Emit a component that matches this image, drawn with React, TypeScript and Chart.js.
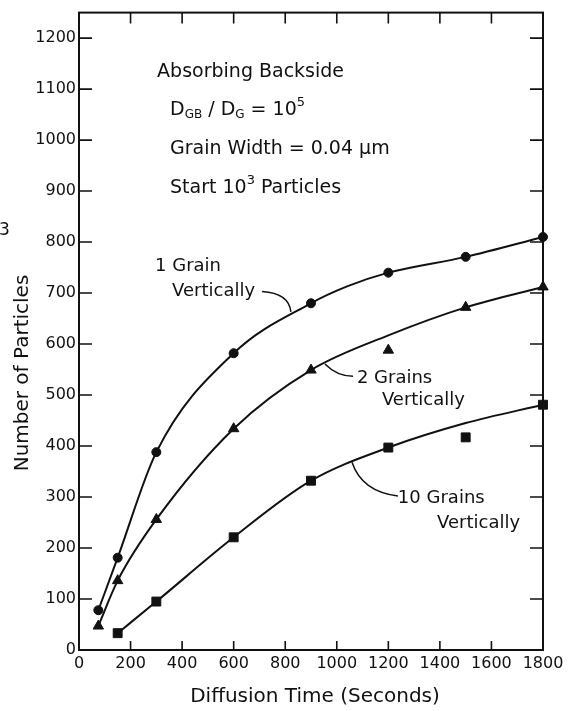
import React, { useEffect, useRef } from 'react';
import { Chart, registerables } from 'chart.js';

Chart.register(...registerables);

// ---- data ----
// measured points
const timesMain = [75, 150, 300, 600, 900, 1200, 1500, 1800];
const timesTen = [150, 300, 600, 900, 1200, 1500, 1800];
const oneGrainPoints = [78, 181, 388, 582, 680, 740, 771, 810];
const twoGrainPoints = [47, 136, 256, 434, 549, 588, 672, 712];
const tenGrainPoints = [33, 95, 221, 332, 397, 417, 481];

// drawn smooth curves (positions)
const oneGrainCurveX = [75, 150, 300, 600, 900, 1040, 1200, 1500, 1800];
const oneGrainCurveY = [78, 181, 388, 582, 680, 713, 740, 771, 810];
const twoGrainCurveX = [75, 150, 300, 600, 900, 1200, 1500, 1800];
const twoGrainCurveY = [47, 136, 256, 434, 549, 617, 672, 712];
const tenGrainCurveX = [150, 300, 600, 900, 1200, 1500, 1800];
const tenGrainCurveY = [33, 95, 221, 332, 397, 445, 481];

const xTickValues = [0, 200, 400, 600, 800, 1000, 1200, 1400, 1600, 1800];
const yTickValues = [0, 100, 200, 300, 400, 500, 600, 700, 800, 900, 1000, 1100, 1200];

const FONT = "'DejaVu Sans', sans-serif";
const INK = '#111';

type Part = { t: string; s: number; dy?: number };

// annotation labels in data units
const curveLabels = [
  { text: '1 Grain', x: 295, y: 752 },
  { text: 'Vertically', x: 361, y: 703 },
  { text: '2 Grains', x: 1078, y: 533 },
  { text: 'Vertically', x: 1175, y: 490 },
  { text: '10 Grains', x: 1237, y: 297 },
  { text: 'Vertically', x: 1389, y: 248 },
];

// leader curves [start, control, end] in data units
const leaders = [
  [[710, 703], [814, 700], [822, 663]],
  [[1063, 537], [1001, 537], [954, 561]],
  [[1237, 302], [1098, 310], [1059, 368]],
];

const infoLines: { x: number; y: number; parts: Part[] }[] = [
  { x: 303, y: 1124, parts: [{ t: 'Absorbing Backside', s: 19 }] },
  {
    x: 353,
    y: 1050,
    parts: [
      { t: 'D', s: 19 },
      { t: 'GB', s: 12, dy: 3 },
      { t: ' / D', s: 19 },
      { t: 'G', s: 12, dy: 3 },
      { t: ' = 10', s: 19 },
      { t: '5', s: 13, dy: -9 },
    ],
  },
  { x: 353, y: 973, parts: [{ t: 'Grain Width = 0.04 μm', s: 19 }] },
  {
    x: 353,
    y: 897,
    parts: [
      { t: 'Start 10', s: 19 },
      { t: '3', s: 13, dy: -9 },
      { t: ' Particles', s: 19 },
    ],
  },
];

const pairs = (xs: number[], ys: number[]) => xs.map((x, i) => ({ x, y: ys[i] }));

const decor = {
  id: 'decor',
  afterDraw(chart: any) {
    const { ctx, chartArea: a } = chart;
    const xs = chart.scales.x;
    const ys = chart.scales.y;
    const X = (v: number) => xs.getPixelForValue(v);
    const Y = (v: number) => ys.getPixelForValue(v);
    ctx.save();
    ctx.strokeStyle = INK;
    ctx.fillStyle = INK;
    ctx.lineWidth = 2;
    ctx.strokeRect(a.left, a.top, a.right - a.left, a.bottom - a.top);

    // inward tick marks on all four sides
    ctx.lineWidth = 1.6;
    ctx.beginPath();
    xTickValues.forEach((v) => {
      if (v <= xs.min || v >= xs.max) return;
      const px = X(v);
      ctx.moveTo(px, a.bottom);
      ctx.lineTo(px, a.bottom - 9);
      ctx.moveTo(px, a.top);
      ctx.lineTo(px, a.top + 11);
    });
    yTickValues.forEach((v) => {
      if (v <= ys.min) return;
      const py = Y(v);
      ctx.moveTo(a.left, py);
      ctx.lineTo(a.left + 13, py);
      ctx.moveTo(a.right, py);
      ctx.lineTo(a.right - 13, py);
    });
    ctx.stroke();

    // leader lines
    ctx.lineWidth = 1.5;
    leaders.forEach(([s, c, e]) => {
      ctx.beginPath();
      ctx.moveTo(X(s[0]), Y(s[1]));
      ctx.quadraticCurveTo(X(c[0]), Y(c[1]), X(e[0]), Y(e[1]));
      ctx.stroke();
    });

    // curve labels
    ctx.textBaseline = 'middle';
    ctx.textAlign = 'left';
    ctx.font = `18px ${FONT}`;
    curveLabels.forEach((l) => ctx.fillText(l.text, X(l.x), Y(l.y)));

    // info block
    ctx.textBaseline = 'alphabetic';
    infoLines.forEach((line) => {
      let cx = X(line.x);
      const by = Y(line.y);
      line.parts.forEach((p) => {
        ctx.font = `${p.s}px ${FONT}`;
        ctx.fillText(p.t, cx, by + (p.dy || 0));
        cx += ctx.measureText(p.t).width;
      });
    });

    // axis titles
    ctx.font = `20px ${FONT}`;
    ctx.textAlign = 'center';
    ctx.textBaseline = 'middle';
    ctx.fillText('Diffusion Time (Seconds)', 315, 697);
    ctx.save();
    ctx.translate(23, 373);
    ctx.rotate(-Math.PI / 2);
    ctx.fillText('Number of Particles', 0, 0);
    ctx.restore();

    // stray glyph at the left edge
    ctx.textAlign = 'left';
    ctx.font = `17px ${FONT}`;
    ctx.fillText('3', -1, 231);
    ctx.restore();
  },
};

export default function App() {
  const ref = useRef<HTMLCanvasElement | null>(null);
  useEffect(() => {
    if (!ref.current) return;
    Chart.defaults.font.family = FONT;
    const lineDs = (xsArr: number[], data: number[]) => ({
      type: 'line' as const,
      data: pairs(xsArr, data),
      borderColor: INK,
      borderWidth: 2,
      pointRadius: 0,
      cubicInterpolationMode: 'monotone' as const,
      fill: false,
      clip: false as any,
    });
    const ptDs = (data: number[], xsArr: number[], style: string, r: number) => ({
      type: 'scatter' as const,
      data: pairs(xsArr, data),
      pointStyle: style,
      pointRadius: r,
      backgroundColor: INK,
      borderColor: INK,
      borderWidth: 1,
      showLine: false,
      clip: false as any,
    });
    const fmt = (v: any) => String(v);
    const chart = new Chart(ref.current, {
      type: 'line',
      data: {
        datasets: [
          lineDs(oneGrainCurveX, oneGrainCurveY),
          lineDs(twoGrainCurveX, twoGrainCurveY),
          lineDs(tenGrainCurveX, tenGrainCurveY),
          ptDs(oneGrainPoints, timesMain, 'circle', 4.5),
          ptDs(twoGrainPoints, timesMain, 'triangle', 6),
          ptDs(tenGrainPoints, timesTen, 'rect', 6.3),
        ] as any,
      },
      options: {
        animation: false,
        responsive: false,
        devicePixelRatio: 1,
        layout: { padding: { top: 5, right: 31, left: 0, bottom: 0 } },
        plugins: { legend: { display: false }, tooltip: { enabled: false } },
        scales: {
          x: {
            type: 'linear',
            min: 0,
            max: 1800,
            grid: { display: false, drawTicks: false },
            border: { display: false },
            afterBuildTicks: (s: any) => {
              s.ticks = xTickValues.map((v) => ({ value: v }));
            },
            afterFit: (s: any) => {
              s.height = 61;
            },
            ticks: {
              autoSkip: false,
              maxRotation: 0,
              padding: 4,
              color: INK,
              font: { size: 16, family: FONT },
              callback: fmt,
            },
          },
          y: {
            type: 'linear',
            min: 0,
            max: 1250,
            grid: { display: false, drawTicks: false },
            border: { display: false },
            afterBuildTicks: (s: any) => {
              s.ticks = yTickValues.map((v) => ({ value: v }));
            },
            afterFit: (s: any) => {
              s.width = 79;
            },
            ticks: {
              autoSkip: false,
              padding: 3,
              color: INK,
              font: { size: 16, family: FONT },
              callback: fmt,
            },
          },
        },
      },
      plugins: [decor],
    });
    return () => chart.destroy();
  }, []);
  return (
    <canvas
      ref={ref}
      width={574}
      height={711}
      style={{ position: 'absolute', left: 0, top: 0, width: 574, height: 711, background: '#fff' }}
    />
  );
}
